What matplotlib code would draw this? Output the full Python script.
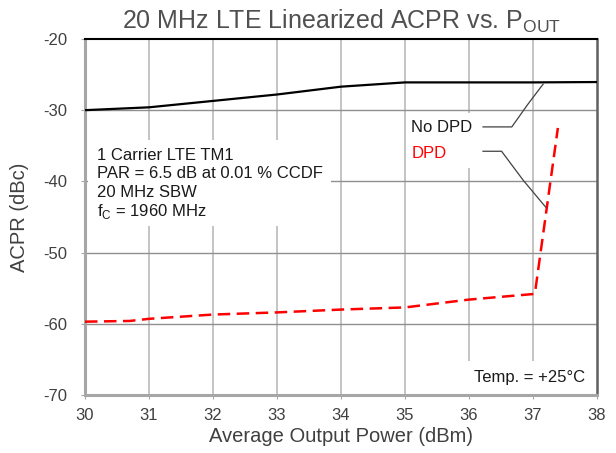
import matplotlib
matplotlib.use("Agg")
import matplotlib.pyplot as plt
from matplotlib.patches import Rectangle

plt.rcParams['font.family'] = ['Liberation Sans', 'DejaVu Sans']
plt.rcParams['axes.unicode_minus'] = False

# Data
nodpd_x = [30, 31, 32, 33, 34, 35, 36, 37, 38]
nodpd_y = [-30.0, -29.6, -28.7, -27.8, -26.7, -26.1, -26.1, -26.1, -26.05]
dpd_x = [30, 30.7, 31, 32, 33, 34, 35, 36, 37.03, 37.39]
dpd_y = [-59.7, -59.6, -59.3, -58.7, -58.4, -58.0, -57.7, -56.6, -55.8, -32.5]
x_ticks = [30, 31, 32, 33, 34, 35, 36, 37, 38]
y_ticks = [-70, -60, -50, -40, -30, -20]
nodpd_leader_x = [36.22, 36.67, 36.93, 37.16]
nodpd_leader_y = [-32.35, -32.35, -29.06, -26.34]
dpd_leader_x = [36.22, 36.51, 36.85, 37.2]
dpd_leader_y = [-35.77, -35.77, -39.86, -43.62]
note_lines = ["1 Carrier LTE TM1", "PAR = 6.5 dB at 0.01 % CCDF", "20 MHz SBW",
              "f$_{\\mathregular{C}}$ = 1960 MHz"]
note_y = [-36.34, -38.87, -41.55, -44.23]

fig = plt.figure(figsize=(6.16, 4.53), dpi=100)
ax = fig.add_axes([0.138, 0.128, 0.831, 0.786])

ax.set_xlim(30, 38)
ax.set_ylim(-70, -20)
ax.set_xticks(x_ticks)
ax.set_yticks(y_ticks)

for xv in x_ticks[1:-1]:
    ax.axvline(xv, color='#c4c4c4', lw=1.4, zorder=0)
for yv in y_ticks[1:-1]:
    ax.axhline(yv, color='#8f8f8f', lw=1.0, zorder=0)

# white boxes hiding the grid behind text
ax.add_patch(Rectangle((30.05, -46.3), 3.79, 12.1, facecolor='white', edgecolor='none', zorder=1))
ax.add_patch(Rectangle((35.02, -38.17), 1.14, 7.75, facecolor='white', edgecolor='none', zorder=1))
ax.add_patch(Rectangle((35.98, -69.9), 2.0, 4.7, facecolor='white', edgecolor='none', zorder=1))

ax.plot(nodpd_x, nodpd_y, color='black', lw=1.6, zorder=3)
ax.plot(dpd_x, dpd_y, color='#ff0000', lw=1.8, dashes=(5, 2.6), zorder=3)

for t, yv in zip(note_lines, note_y):
    ax.text(30.19, yv, t, fontsize=12, color='#1a1a1a', va='center', ha='left', zorder=4)
ax.text(35.1, -32.4, "No DPD", fontsize=12, color='#1a1a1a', va='center', ha='left', zorder=4)
ax.text(35.1, -36.06, "DPD", fontsize=12, color='#ff0000', va='center', ha='left', zorder=4)
ax.text(37.81, -67.6, "Temp. = +25\u00b0C", fontsize=12, color='#1a1a1a', va='center', ha='right', zorder=4)

ax.plot(nodpd_leader_x, nodpd_leader_y, color='#404040', lw=0.9, zorder=5)
ax.plot(dpd_leader_x, dpd_leader_y, color='#404040', lw=0.9, zorder=5)

# Spines
ax.spines['top'].set_color('black')
ax.spines['top'].set_linewidth(1.5)
ax.spines['left'].set_color('#a6a6a6')
ax.spines['left'].set_linewidth(2.2)
ax.spines['bottom'].set_color('#a6a6a6')
ax.spines['bottom'].set_linewidth(2.2)
ax.spines['right'].set_color('#606060')
ax.spines['right'].set_linewidth(1.8)

ax.tick_params(axis='both', length=3, color='#a6a6a6', labelsize=12, labelcolor='#404040', pad=6)
ax.tick_params(axis='y', pad=10)

ax.set_xlabel("Average Output Power (dBm)", fontsize=14.5, color='#404040', labelpad=3)
ax.set_ylabel("ACPR (dBc)", fontsize=14.5, color='#404040', labelpad=10)
ax.set_title("20 MHz LTE Linearized ACPR vs. P$_{\\mathregular{OUT}}$", fontsize=18,
             color='#505050', pad=7)

fig.savefig("out.png", dpi=100)
